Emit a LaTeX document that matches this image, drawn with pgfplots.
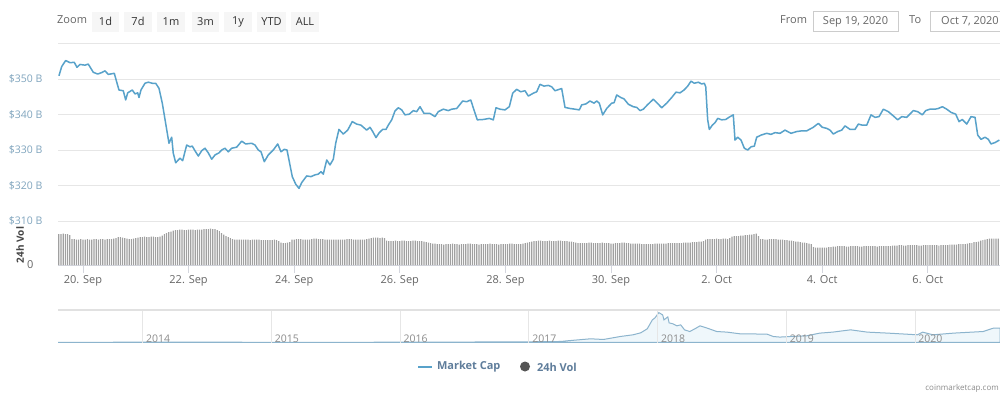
\documentclass[border=0pt]{standalone}
\usepackage{pgfplots}
\pgfplotsset{compat=1.18}
\usepackage{fontspec}
\setmainfont{Open Sans}
\definecolor{mainblue}{RGB}{88,162,202}
\definecolor{ylab}{RGB}{128,165,190}
\definecolor{gridc}{RGB}{230,230,230}
\definecolor{ticktext}{RGB}{102,102,102}
\definecolor{axisc}{RGB}{212,214,222}
\definecolor{volc}{RGB}{160,160,160}
\definecolor{btnbg}{RGB}{246,246,246}
\definecolor{btntext}{RGB}{51,51,51}
\definecolor{zoomtext}{RGB}{102,102,102}
\definecolor{boxc}{RGB}{204,204,204}
\definecolor{legtext}{RGB}{95,125,155}
\definecolor{volcirc}{RGB}{85,85,85}
\definecolor{navline}{RGB}{140,180,205}
\definecolor{navfill}{RGB}{236,245,250}
\definecolor{navtop}{RGB}{225,225,225}
\definecolor{yeartext}{RGB}{140,140,140}
\definecolor{voltitle}{RGB}{68,68,68}
\newcommand\fs[1]{\fontsize{#1}{#1}\selectfont}

\pgfplotstableread{
d v
-0.455 350.9
-0.403 353.5
-0.328 355.2
-0.246 354.6
-0.165 354.7
-0.114 353.3
-0.057 354.1
0.038 353.9
0.100 354.2
0.195 351.9
0.278 351.4
0.354 351.8
0.417 352.3
0.479 351.3
0.593 351.6
0.638 349.2
0.682 346.9
0.763 346.7
0.809 344.1
0.847 346.1
0.934 346.9
0.985 345.8
1.036 346.1
1.061 344.8
1.098 346.9
1.174 348.8
1.237 349.1
1.313 348.8
1.377 348.8
1.439 347.4
1.502 343.2
1.566 337.5
1.629 331.9
1.680 333.6
1.710 329.1
1.756 326.4
1.837 327.7
1.888 327.0
1.964 331.4
2.027 330.9
2.070 331.1
2.121 329.8
2.184 328.3
2.248 329.8
2.311 330.5
2.373 329.2
2.438 327.4
2.500 328.6
2.576 329.2
2.627 330.0
2.689 330.5
2.752 329.5
2.816 330.5
2.911 330.8
3.006 332.5
3.081 331.7
3.195 331.9
3.258 331.4
3.320 330.0
3.371 329.5
3.434 326.7
3.509 328.6
3.604 330.0
3.688 331.7
3.750 329.5
3.813 330.2
3.864 330.0
3.920 325.8
3.964 322.5
4.028 320.4
4.091 319.2
4.142 320.8
4.237 322.7
4.318 322.5
4.394 323.0
4.456 323.2
4.508 323.9
4.551 323.2
4.616 327.2
4.678 325.8
4.741 327.4
4.786 331.9
4.848 335.8
4.930 334.5
5.013 335.6
5.100 338.0
5.184 337.3
5.265 337.0
5.373 335.6
5.436 336.4
5.487 335.2
5.549 333.5
5.612 334.9
5.676 335.8
5.739 335.8
5.782 337.0
5.847 338.5
5.909 341.0
5.972 341.9
6.036 341.3
6.098 339.9
6.180 340.1
6.256 341.1
6.320 340.8
6.383 342.2
6.458 340.3
6.572 340.3
6.667 339.4
6.729 340.8
6.824 341.5
6.919 341.1
6.983 341.5
7.078 341.7
7.191 343.8
7.267 343.6
7.343 344.1
7.405 341.3
7.468 338.5
7.582 338.6
7.695 338.9
7.771 338.5
7.822 341.9
7.898 341.5
7.992 341.3
8.074 342.2
8.138 346.0
8.214 347.1
8.290 346.4
8.371 346.7
8.434 345.2
8.528 346.0
8.593 346.4
8.655 348.5
8.731 348.0
8.813 348.2
8.877 347.8
8.939 346.7
9.021 347.1
9.066 347.3
9.129 342.0
9.223 341.7
9.318 341.5
9.400 341.3
9.445 342.7
9.527 343.0
9.602 343.8
9.678 343.2
9.729 343.8
9.778 343.2
9.843 339.9
9.919 341.7
10.013 343.2
10.057 343.3
10.108 345.5
10.184 344.8
10.246 344.4
10.328 342.9
10.422 342.2
10.487 342.0
10.549 341.1
10.612 341.5
10.688 342.7
10.801 344.3
10.877 343.2
10.960 341.9
11.055 343.2
11.150 344.8
11.231 346.3
11.307 346.1
11.383 346.9
11.453 348.0
11.515 349.4
11.578 348.8
11.653 349.1
11.718 348.6
11.767 348.8
11.794 347.8
11.831 338.5
11.862 335.8
11.919 337.0
11.970 337.7
12.021 338.9
12.097 338.5
12.172 338.6
12.254 339.4
12.316 339.9
12.348 332.8
12.400 333.6
12.462 332.8
12.525 330.5
12.589 330.0
12.652 330.9
12.714 331.1
12.759 333.6
12.841 334.2
12.949 334.7
13.030 334.4
13.106 334.9
13.201 334.7
13.295 335.6
13.409 334.7
13.517 335.2
13.612 335.4
13.706 335.4
13.831 336.4
13.926 337.5
14.002 336.4
14.085 336.1
14.148 335.6
14.210 334.5
14.294 335.2
14.369 335.6
14.432 336.8
14.527 335.8
14.621 335.8
14.684 337.3
14.760 337.0
14.843 337.0
14.924 339.9
15.000 339.2
15.076 339.4
15.157 341.5
15.252 340.8
15.347 339.6
15.430 338.5
15.506 339.4
15.600 339.2
15.725 341.1
15.809 340.8
15.896 339.9
15.960 341.1
16.042 341.5
16.136 341.5
16.199 341.7
16.275 342.2
16.358 341.5
16.439 340.6
16.528 340.1
16.591 338.0
16.653 338.6
16.737 337.3
16.818 339.4
16.894 339.2
16.945 334.2
17.008 333.0
17.083 333.6
17.146 333.0
17.197 331.7
17.273 332.1
17.355 332.8
}\mcap

\pgfplotstableread{
yr cap
2013.342 2
2013.67 3
2013.95 12
2014.0 10
2014.45 8
2015.0 5
2015.46 5
2016.0 7
2016.47 12
2017.0 18
2017.25 28
2017.30 47
2017.48 103
2017.58 84
2017.71 167
2017.81 215
2017.87 271
2017.92 382
2017.96 633
2017.98 689
2018.01 837
2018.04 773
2018.05 633
2018.08 717
2018.09 550
2018.12 522
2018.15 466
2018.18 494
2018.21 354
2018.25 307
2018.29 382
2018.33 466
2018.38 410
2018.46 307
2018.54 290
2018.64 243
2018.85 234
2018.90 167
2018.95 151
2019.03 167
2019.16 187
2019.26 262
2019.36 290
2019.50 354
2019.63 290
2019.79 262
2020.02 215
2020.06 290
2020.14 215
2020.30 262
2020.53 307
2020.61 402
2020.661 402
}\navcap

\begin{document}
\begin{tikzpicture}[x=1pt,y=1pt]
\path[use as bounding box] (0,0) rectangle (1000,-397);
\fill[white] (0,0) rectangle (1000,-397);

% range selector
\node[anchor=west, text=zoomtext, font=\fs{11}, inner sep=0pt] at (57,-20) {Zoom};
\foreach \a/\b/\t in {92/119/1d, 124/152/7d, 157/185/1m, 192/219/3m, 224/252/1y, 257/286/YTD, 291/319/ALL}{
  \fill[btnbg] (\a,-12) rectangle (\b,-32);
  \node[text=btntext, font=\fs{11}] at ({(\a+\b)/2},-21.5) {\t};
}
\node[anchor=west, text=zoomtext, font=\fs{11}, inner sep=0pt] at (780,-20) {From};
\draw[boxc, fill=white] (813,-11.5) rectangle (898,-31.5);
\node[text=ticktext, font=\fs{11}] at (855.5,-21.5) {Sep 19, 2020};
\node[anchor=west, text=zoomtext, font=\fs{11}, inner sep=0pt] at (909,-20) {To};
\draw[boxc, fill=white] (930,-11.5) rectangle (1010,-31.5);
\node[anchor=west, text=ticktext, font=\fs{11}, inner sep=0pt] at (941,-21.5) {Oct 7, 2020};

% main price axis
\begin{axis}[at={(58pt,-221pt)}, anchor=south west, scale only axis,
  width=942pt, height=177.5pt,
  xmin=-0.473, xmax=17.367, ymin=310, ymax=360,
  axis line style={draw=none}, xtick=\empty,
  ytick={310,320,330,340,350,360},
  yticklabels={\$310 B,\$320 B,\$330 B,\$340 B,\$350 B,{}},
  ytick style={draw=none},
  yticklabel style={font=\fs{10.5}, text=ylab, anchor=east, xshift=-12pt},
  ymajorgrids, major grid style={draw=gridc, line width=0.8pt}]
\addplot[mainblue, line width=1.5pt, line join=round, mark=none] table[x=d, y=v] {\mcap};
\end{axis}

% volume axis
\draw[axisc, line width=0.8pt] (58,-265.5) -- (1000,-265.5);
\begin{axis}[at={(58pt,-265pt)}, anchor=south west, scale only axis,
  width=942pt, height=44pt,
  xmin=-11.35, xmax=416.8, ymin=0, ymax=44,
  axis line style={draw=none},
  xtick={0,48,96,144,192,240,288,336,384},
  xticklabels={20. Sep,22. Sep,24. Sep,26. Sep,28. Sep,30. Sep,2. Oct,4. Oct,6. Oct},
  xtick pos=left, tick align=outside, major tick length=8pt,
  xtick style={draw=axisc, line width=0.8pt},
  xticklabel style={font=\fs{11}, text=ticktext, yshift=1pt},
  ytick={0}, yticklabels={0}, ytick style={draw=none},
  yticklabel style={font=\fs{11}, text=ticktext, anchor=east, xshift=-13pt}]
\addplot[ybar, bar width=1.2pt, fill=volc, draw=none] coordinates {
(-11,31)(-10,31)(-9,31.5)(-8,31)(-7,31)(-6,30)(-5,26)(-4,26)(-3,25.5)(-2,25.5)(-1,26)
(0,25.5)(1,25.5)(2,26)(3,25.5)(4,25.5)(5,26)(6,26)(7,25.5)(8,26)(9,26)(10,25.5)(11,26)(12,26)(13,26)(14,26.5)(15,27)(16,28)(17,28)(18,27.5)(19,27)(20,26.5)(21,26)(22,26)(23,26.5)
(24,27)(25,27.5)(26,28)(27,28)(28,28.5)(29,28)(30,28)(31,28.5)(32,28.5)(33,28)(34,28)(35,28.5)(36,29.5)(37,31)(38,32)(39,33)(40,33.5)(41,34.5)(42,35)(43,35)(44,35.5)(45,35.5)(46,35)(47,35)
(48,35.5)(49,35.5)(50,35.5)(51,35)(52,35.5)(53,35.5)(54,35.5)(55,36)(56,36)(57,36)(58,36.5)(59,36)(60,36)(61,35)(62,34)(63,32)(64,30.5)(65,29)(66,28)(67,27)(68,26)(69,25.5)(70,25.5)(71,25.5)
(72,25.5)(73,25.5)(74,25.5)(75,25.5)(76,25)(77,25.5)(78,25.5)(79,25.5)(80,25.5)(81,25)(82,25)(83,25)(84,25)(85,25)(86,25)(87,25.5)(88,25)(89,24)(90,22.5)(91,22)(92,22)(93,22.5)(94,23)(95,25.5)
(96,25.5)(97,26)(98,26)(99,26)(100,25.5)(101,25.5)(102,25.5)(103,25.5)(104,26)(105,26.5)(106,26.5)(107,26)(108,26)(109,26)(110,25.5)(111,25.5)(112,25.5)(113,25.5)(114,25.5)(115,25.5)(116,25.5)(117,25.5)(118,25.5)(119,25.5)
(120,26)(121,26)(122,26)(123,25.5)(124,25.5)(125,25.5)(126,25.5)(127,25.5)(128,25.5)(129,26)(130,26.5)(131,27)(132,27.5)(133,27.5)(134,27.5)(135,27)(136,27.5)(137,27)(138,24.5)(139,24)(140,24)(141,24)(142,24.5)(143,24)
(144,24)(145,24.5)(146,24.5)(147,24)(148,24)(149,24)(150,24.5)(151,24.5)(152,24)(153,24)(154,24)(155,23.5)(156,23)(157,22.5)(158,22)(159,21.5)(160,21.5)(161,21)(162,21)(163,21)(164,20.5)(165,21)(166,21)(167,21)
(168,21.5)(169,21)(170,21)(171,20.5)(172,21)(173,21)(174,21)(175,21.5)(176,21.5)(177,21)(178,21)(179,21)(180,20.5)(181,21)(182,21)(183,21)(184,21)(185,21.5)(186,21)(187,21)(188,21)(189,20.5)(190,21)(191,21)
(192,21)(193,21)(194,21.5)(195,21.5)(196,21)(197,21)(198,21)(199,21)(200,21.5)(201,22)(202,22.5)(203,23)(204,23.5)(205,24)(206,24)(207,24.5)(208,24.5)(209,24)(210,24)(211,24)(212,24.5)(213,24)(214,24)(215,24)
(216,24.5)(217,24.5)(218,24)(219,24)(220,24)(221,23.5)(222,23.5)(223,23)(224,22.5)(225,22)(226,22)(227,22)(228,22)(229,22)(230,22.5)(231,22.5)(232,22)(233,22)(234,22)(235,22)(236,22.5)(237,22)(238,22)(239,22)
(240,21.5)(241,21.5)(242,22)(243,22)(244,22)(245,22.5)(246,22.5)(247,22)(248,22)(249,21.5)(250,21.5)(251,21.5)(252,21.5)(253,21.5)(254,21)(255,21)(256,21)(257,21)(258,21)(259,21)(260,21.5)(261,21.5)(262,21.5)(263,21.5)
(264,21.5)(265,21.5)(266,22)(267,22)(268,22)(269,22)(270,22)(271,22)(272,22)(273,22.5)(274,22.5)(275,22.5)(276,22.5)(277,23)(278,23)(279,23)(280,23.5)(281,23.5)(282,24)(283,25.5)(284,26)(285,26)(286,26)(287,26)
(288,26.5)(289,26)(290,26)(291,26.5)(292,26.5)(293,26)(294,27)(295,28.5)(296,29)(297,29)(298,29)(299,29.5)(300,29.5)(301,30)(302,30)(303,30.5)(304,30.5)(305,31)(306,31.5)(307,29)(308,26)(309,26)(310,25.5)(311,25.5)
(312,26)(313,26)(314,26)(315,26)(316,25.5)(317,25.5)(318,25.5)(319,25)(320,25)(321,24.5)(322,24.5)(323,24)(324,23.5)(325,23.5)(326,23)(327,22.5)(328,22.5)(329,22)(330,21.5)(331,21)(332,18)(333,17.5)(334,17.5)(335,17.5)
(336,17.5)(337,17.5)(338,17.5)(339,18)(340,18)(341,18.5)(342,18.5)(343,19)(344,19)(345,19)(346,19)(347,18.5)(348,18.5)(349,19)(350,19)(351,19)(352,19)(353,18.5)(354,18.5)(355,19)(356,19)(357,19)(358,19)(359,19)
(360,19)(361,18.5)(362,19)(363,19)(364,19)(365,19)(366,19)(367,19)(368,19.5)(369,19.5)(370,19.5)(371,20)(372,20)(373,19.5)(374,19.5)(375,20)(376,20)(377,20)(378,20)(379,20)(380,19.5)(381,19.5)(382,20)(383,20)
(384,20)(385,20)(386,20)(387,20)(388,20)(389,19.5)(390,20)(391,20)(392,20)(393,20)(394,20.5)(395,20.5)(396,20.5)(397,20.5)(398,21)(399,21)(400,21)(401,21)(402,21.5)(403,22)(404,22)(405,23)(406,23)(407,23.5)
(408,24.5)(409,25)(410,25.5)(411,26)(412,26.5)(413,26.5)(414,26.5)(415,26.5)(416,26.5)
};
\end{axis}
\node[rotate=90, text=voltitle, font=\fs{10}\bfseries] at (20,-245) {24h Vol};

% navigator
\begin{axis}[at={(58pt,-343pt)}, anchor=south west, scale only axis,
  width=942pt, height=33pt,
  xmin=2013.342, xmax=2020.661, ymin=-15, ymax=910,
  axis line style={draw=none}, axis on top,
  xtick={2014,2015,2016,2017,2018,2019,2020},
  xticklabels={2014,2015,2016,2017,2018,2019,2020},
  xtick style={draw=none}, ytick=\empty,
  xmajorgrids, major grid style={draw=gridc, line width=0.7pt},
  xticklabel style={anchor=base west, font=\fs{10.5}, text=yeartext, yshift=0.5pt}]
\addplot[navline, line width=1pt, fill=navfill, fill opacity=0.8, mark=none] table[x=yr, y=cap] {\navcap} \closedcycle;
\end{axis}
\draw[navtop, line width=1.5pt] (58,-310) -- (1000,-310);

% legend
\draw[mainblue, line width=2pt] (418,-367) -- (432,-367);
\node[anchor=west, text=legtext, font=\fs{11}\bfseries] at (433.5,-367) {Market Cap};
\fill[volcirc] (525,-366.5) circle (5);
\node[anchor=west, text=legtext, font=\fs{11}\bfseries] at (533.5,-367) {24h Vol};

% credits
\node[anchor=east, text=yeartext, font=\fs{8}, inner sep=0pt] at (999,-388) {coinmarketcap.com};
\end{tikzpicture}
\end{document}
